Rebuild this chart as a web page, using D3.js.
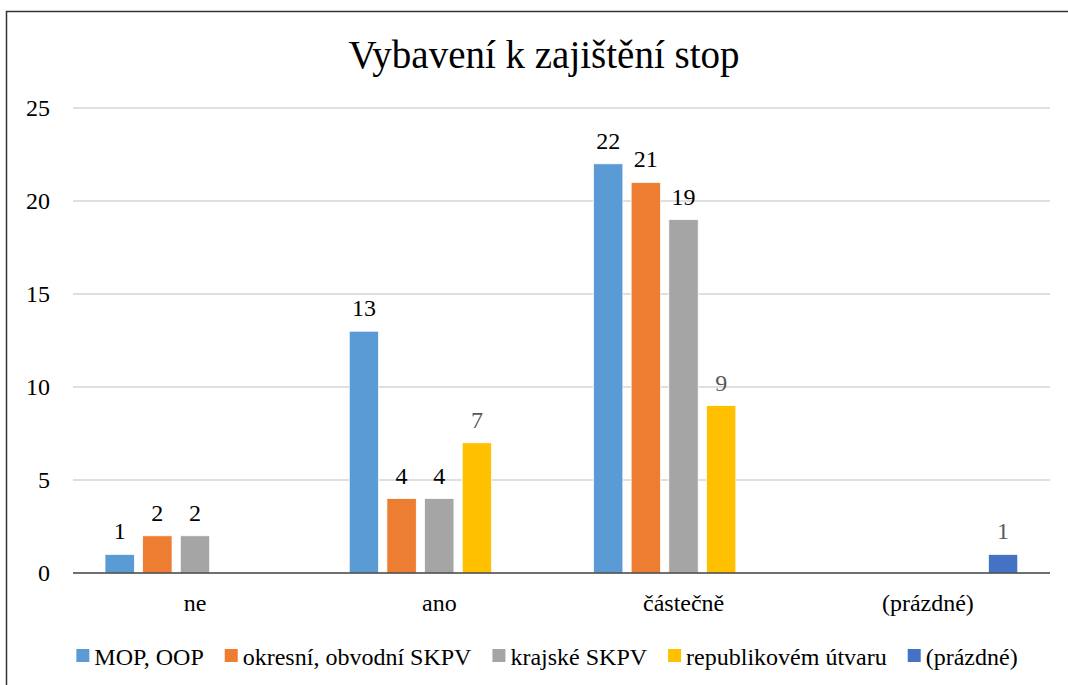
<!DOCTYPE html>
<html>
<head>
<meta charset="utf-8">
<script src="https://cdn.jsdelivr.net/npm/d3@7"></script>
<style>
  body { margin: 0; background: #fff; }
  svg text { font-family: "Liberation Serif", "DejaVu Serif", serif; }
</style>
</head>
<body>
<svg id="chart" width="1068" height="685"></svg>
<script>
const categories = ["ne", "ano", "částečně", "(prázdné)"];
const seriesNames = ["MOP, OOP", "okresní, obvodní SKPV", "krajské SKPV", "republikovém útvaru", "(prázdné)"];
const seriesColors = ["#5b9bd5", "#ed7d31", "#a5a5a5", "#ffc000", "#4472c4"];
const labelColors = ["#000", "#000", "#000", "#595959", "#595959"];
// values per series, one per category (null = no bar)
const mopOop = [1, 13, 22, null];
const okresni = [2, 4, 21, null];
const krajske = [2, 4, 19, null];
const republikove = [null, 7, 9, null];
const prazdne = [null, null, null, 1];
const yTicks = [0, 5, 10, 15, 20, 25];

const values = [mopOop, okresni, krajske, republikove, prazdne];

const svg = d3.select("#chart");

// outer frame
svg.append("rect")
  .attr("x", 6.5).attr("y", 11.5)
  .attr("width", 1100).attr("height", 700)
  .attr("fill", "none").attr("stroke", "#333").attr("stroke-width", 1.5);

const x = d3.scaleBand().domain(categories).range([73, 1050]);
const xs = d3.scaleBand().domain(d3.range(seriesNames.length))
  .range([32, 212]).paddingInner(0.22);
const y = d3.scaleLinear().domain([0, 25]).range([573, 108]);

// title
svg.append("text")
  .attr("x", 544).attr("y", 68)
  .attr("text-anchor", "middle")
  .attr("font-size", 39)
  .attr("fill", "#000")
  .text("Vybavení k zajištění stop");

// gridlines
svg.append("g")
  .selectAll("line")
  .data(yTicks.filter(d => d > 0))
  .enter()
  .append("line")
  .attr("x1", 73).attr("x2", 1050)
  .attr("y1", d => y(d)).attr("y2", d => y(d))
  .attr("stroke", "#bfbfbf").attr("stroke-width", 1);

// y tick labels
svg.append("g")
  .selectAll("text")
  .data(yTicks)
  .enter()
  .append("text")
  .attr("x", 50).attr("y", d => y(d) + 8)
  .attr("text-anchor", "end")
  .attr("font-size", 24)
  .attr("fill", "#000")
  .text(d => d);

// bars
const flat = [];
values.forEach((vals, si) => {
  vals.forEach((v, ci) => {
    if (v !== null) flat.push({ s: si, c: categories[ci], v: v });
  });
});

svg.append("g")
  .selectAll("rect")
  .data(flat)
  .enter()
  .append("rect")
  .attr("x", d => x(d.c) + xs(d.s))
  .attr("y", d => y(d.v))
  .attr("width", xs.bandwidth())
  .attr("height", d => y(0) - y(d.v))
  .attr("fill", d => seriesColors[d.s])
  .attr("stroke", "#fff").attr("stroke-width", 0.75);

// data labels
svg.append("g")
  .selectAll("text")
  .data(flat)
  .enter()
  .append("text")
  .attr("x", d => x(d.c) + xs(d.s) + xs.bandwidth() / 2)
  .attr("y", d => y(d.v) - 15)
  .attr("text-anchor", "middle")
  .attr("font-size", 24)
  .attr("fill", d => labelColors[d.s])
  .text(d => d.v);

// x axis line
svg.append("line")
  .attr("x1", 73).attr("x2", 1050)
  .attr("y1", y(0)).attr("y2", y(0))
  .attr("stroke", "#404040").attr("stroke-width", 1.5);

// category labels
svg.append("g")
  .selectAll("text")
  .data(categories)
  .enter()
  .append("text")
  .attr("x", d => x(d) + x.bandwidth() / 2)
  .attr("y", 611)
  .attr("text-anchor", "middle")
  .attr("font-size", 24)
  .attr("fill", "#000")
  .text(d => d);

// legend
const legend = svg.append("g");
const items = legend.selectAll("g")
  .data(seriesNames)
  .enter()
  .append("g");
items.append("rect")
  .attr("width", 13).attr("height", 13)
  .attr("y", 649)
  .attr("fill", (d, i) => seriesColors[i]);
items.append("text")
  .attr("x", 18).attr("y", 665)
  .attr("font-size", 24)
  .attr("fill", "#000")
  .text(d => d);

let pos = 0;
const offsets = [];
items.each(function () {
  offsets.push(pos);
  const w = d3.select(this).select("text").node().getComputedTextLength();
  pos += 18 + w + 21;
});
const total = pos - 21;
const start = 547 - total / 2;
items.attr("transform", (d, i) => `translate(${start + offsets[i]},0)`);
</script>
</body>
</html>
